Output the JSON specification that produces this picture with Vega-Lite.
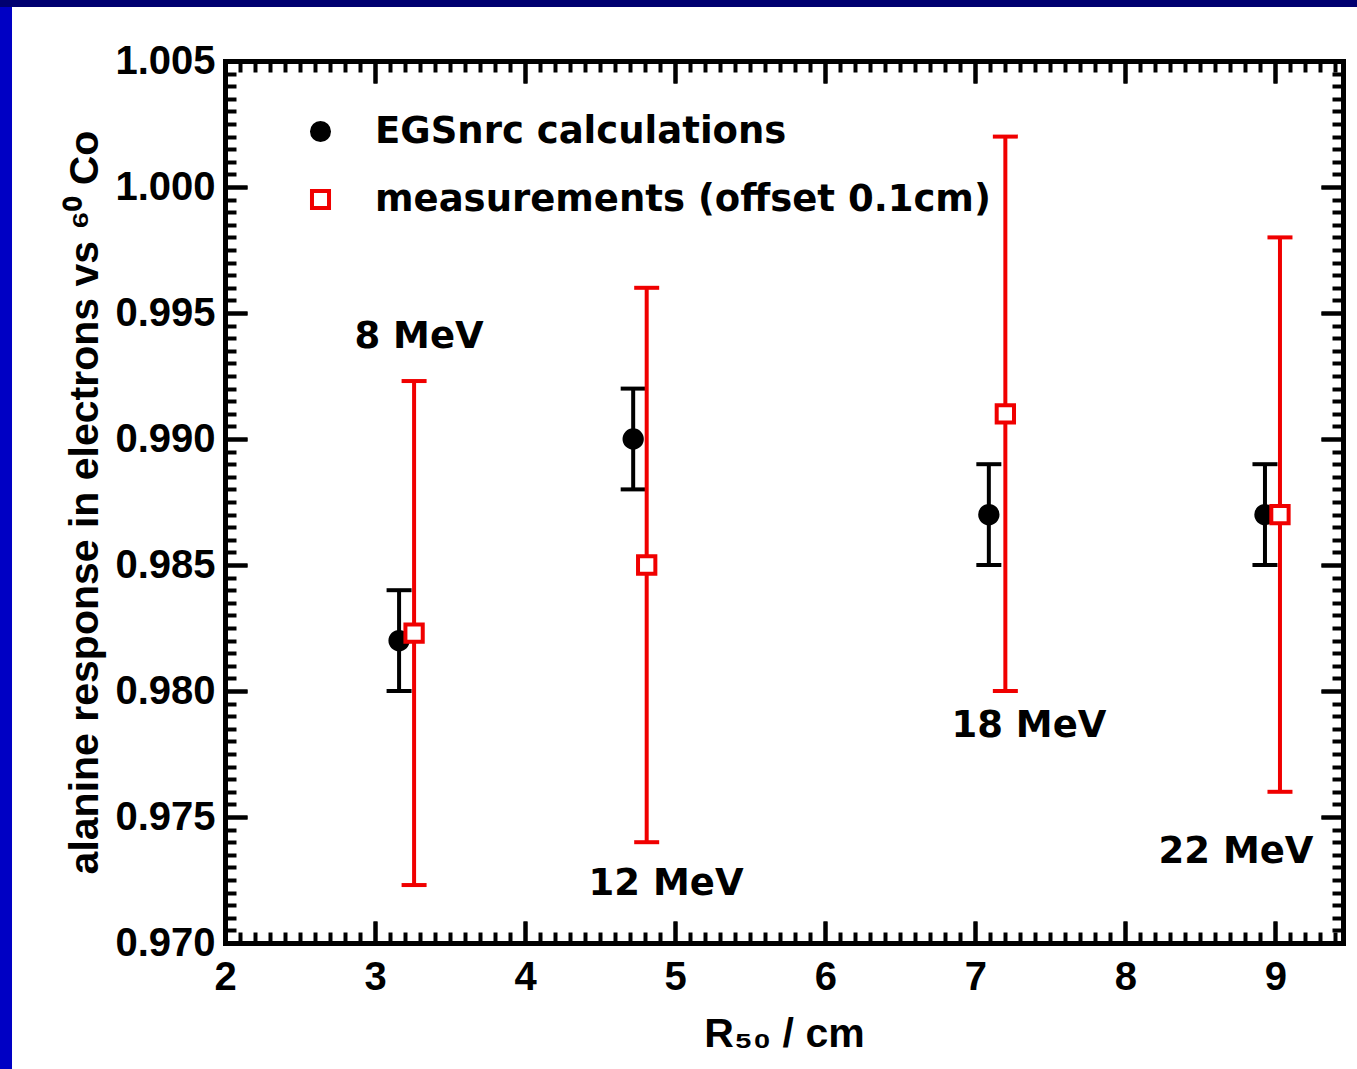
{
  "$schema": "https://vega.github.io/schema/vega-lite/v6.json",
  "width": 1118,
  "height": 882,
  "autosize": {"type": "none"},
  "padding": {"left": 225, "top": 61, "right": 14, "bottom": 126},
  "background": "#0000c4",
  "config": {
    "view": {"stroke": null},
    "axis": {"grid": false},
    "legend": {
      "padding": 0,
      "labelFont": "DejaVu Sans",
      "labelFontWeight": "bold",
      "labelFontSize": 37,
      "labelColor": "black",
      "labelOffset": 36,
      "rowPadding": 30,
      "symbolSize": 290,
      "symbolStrokeWidth": 4,
      "symbolOpacity": 1,
      "labelLimit": 800
    }
  },
  "datasets": {
    "pts": [
      {"series": "EGSnrc calculations", "R50": 3.16, "val": 0.982, "lo": 0.980, "hi": 0.984},
      {"series": "EGSnrc calculations", "R50": 4.72, "val": 0.990, "lo": 0.988, "hi": 0.992},
      {"series": "EGSnrc calculations", "R50": 7.09, "val": 0.987, "lo": 0.985, "hi": 0.989},
      {"series": "EGSnrc calculations", "R50": 8.93, "val": 0.987, "lo": 0.985, "hi": 0.989},
      {"series": "measurements (offset 0.1cm)", "R50": 3.26, "val": 0.9823, "lo": 0.9723, "hi": 0.9923},
      {"series": "measurements (offset 0.1cm)", "R50": 4.81, "val": 0.985, "lo": 0.974, "hi": 0.996},
      {"series": "measurements (offset 0.1cm)", "R50": 7.20, "val": 0.991, "lo": 0.980, "hi": 1.002},
      {"series": "measurements (offset 0.1cm)", "R50": 9.03, "val": 0.987, "lo": 0.976, "hi": 0.998}
    ],
    "notes": [
      {"label": "8 MeV", "R50": 3.293, "val": 0.99361},
      {"label": "12 MeV", "R50": 4.939, "val": 0.97190},
      {"label": "18 MeV", "R50": 7.357, "val": 0.97817},
      {"label": "22 MeV", "R50": 8.737, "val": 0.97317}
    ],
    "frame": [{"part": "frame"}]
  },
  "layer": [
    {
      "data": {"name": "frame"},
      "mark": {"type": "rect", "fill": "#000070", "clip": false},
      "encoding": {
        "x": {"datum": 0.3, "type": "quantitative", "scale": {"domain": [2, 9.45], "nice": false, "zero": false}, "axis": null},
        "x2": {"datum": 9.8},
        "y": {"datum": 1.00714, "type": "quantitative", "scale": {"domain": [0.97, 1.005], "nice": false, "zero": false}, "axis": null},
        "y2": {"datum": 1.011}
      }
    },
    {
      "data": {"name": "frame"},
      "mark": {"type": "rect", "fill": "white", "clip": false},
      "encoding": {
        "x": {"datum": 0.5807, "type": "quantitative", "scale": {"domain": [2, 9.45], "nice": false, "zero": false}, "axis": null},
        "x2": {"datum": 9.8},
        "y": {"datum": 1.00714, "type": "quantitative", "scale": {"domain": [0.97, 1.005], "nice": false, "zero": false}, "axis": null},
        "y2": {"datum": 0.96}
      }
    },
    {
      "data": {"name": "pts"},
      "transform": [{"filter": "datum.series === 'EGSnrc calculations'"}],
      "mark": {"type": "rule", "color": "black", "strokeWidth": 4, "opacity": 1},
      "encoding": {
        "x": {
          "field": "R50", "type": "quantitative",
          "scale": {"domain": [2, 9.45], "nice": false, "zero": false},
          "axis": {
            "orient": "top", "zindex": 1,
            "values": [2,2.1,2.2,2.3,2.4,2.5,2.6,2.7,2.8,2.9,3,3.1,3.2,3.3,3.4,3.5,3.6,3.7,3.8,3.9,4,4.1,4.2,4.3,4.4,4.5,4.6,4.7,4.8,4.9,5,5.1,5.2,5.3,5.4,5.5,5.6,5.7,5.8,5.9,6,6.1,6.2,6.3,6.4,6.5,6.6,6.7,6.8,6.9,7,7.1,7.2,7.3,7.4,7.5,7.6,7.7,7.8,7.9,8,8.1,8.2,8.3,8.4,8.5,8.6,8.7,8.8,8.9,9,9.1,9.2,9.3,9.4],
            "domain": true, "domainColor": "black", "domainWidth": 5, "domainCap": "square",
            "ticks": true, "tickColor": "black", "tickWidth": 4,
            "tickSize": {"condition": {"test": "abs(datum.value - round(datum.value)) < 0.01", "value": -22}, "value": -11},
            "labels": false, "title": null, "grid": false
          }
        },
        "y": {
          "field": "lo", "type": "quantitative",
          "scale": {"domain": [0.97, 1.005], "nice": false, "zero": false},
          "axis": {
            "orient": "right", "zindex": 1,
            "values": [0.97,0.9705,0.971,0.9715,0.972,0.9725,0.973,0.9735,0.974,0.9745,0.975,0.9755,0.976,0.9765,0.977,0.9775,0.978,0.9785,0.979,0.9795,0.98,0.9805,0.981,0.9815,0.982,0.9825,0.983,0.9835,0.984,0.9845,0.985,0.9855,0.986,0.9865,0.987,0.9875,0.988,0.9885,0.989,0.9895,0.99,0.9905,0.991,0.9915,0.992,0.9925,0.993,0.9935,0.994,0.9945,0.995,0.9955,0.996,0.9965,0.997,0.9975,0.998,0.9985,0.999,0.9995,1,1.0005,1.001,1.0015,1.002,1.0025,1.003,1.0035,1.004,1.0045,1.005],
            "domain": true, "domainColor": "black", "domainWidth": 5, "domainCap": "square",
            "ticks": true, "tickColor": "black", "tickWidth": 4,
            "tickSize": {"condition": {"test": "abs(datum.value * 200 - round(datum.value * 200)) < 0.01", "value": -22}, "value": -11},
            "labels": false, "title": null, "grid": false
          }
        },
        "y2": {"field": "hi"}
      }
    },
    {
      "data": {"name": "pts"},
      "transform": [{"filter": "datum.series === 'EGSnrc calculations'"}],
      "mark": {"type": "tick", "orient": "horizontal", "color": "black", "size": 25, "thickness": 4, "opacity": 1},
      "encoding": {
        "x": {
          "field": "R50", "type": "quantitative",
          "scale": {"domain": [2, 9.45], "nice": false, "zero": false},
          "axis": {
            "orient": "bottom", "zindex": 1, "values": [2,3,4,5,6,7,8,9],
            "domain": false, "labels": false, "title": null, "grid": false,
            "ticks": true, "tickColor": "black", "tickWidth": 4, "tickSize": -22
          }
        },
        "y": {
          "field": "lo", "type": "quantitative",
          "scale": {"domain": [0.97, 1.005], "nice": false, "zero": false},
          "axis": {
            "orient": "left", "zindex": 1, "values": [0.97,0.975,0.98,0.985,0.99,0.995,1,1.005],
            "domain": false, "labels": false, "title": null, "grid": false,
            "ticks": true, "tickColor": "black", "tickWidth": 4, "tickSize": -22
          }
        }
      }
    },
    {
      "data": {"name": "pts"},
      "transform": [{"filter": "datum.series === 'EGSnrc calculations'"}],
      "mark": {"type": "tick", "orient": "horizontal", "color": "black", "size": 25, "thickness": 4, "opacity": 1},
      "encoding": {
        "x": {
          "field": "R50", "type": "quantitative",
          "scale": {"domain": [2, 9.45], "nice": false, "zero": false},
          "axis": {
            "orient": "top", "zindex": 1, "values": [2,3,4,5,6,7,8,9],
            "domain": false, "labels": false, "title": null, "grid": false,
            "ticks": true, "tickColor": "black", "tickWidth": 4, "tickSize": -22
          }
        },
        "y": {
          "field": "hi", "type": "quantitative",
          "scale": {"domain": [0.97, 1.005], "nice": false, "zero": false},
          "axis": {
            "orient": "right", "zindex": 1, "values": [0.97,0.975,0.98,0.985,0.99,0.995,1,1.005],
            "domain": false, "labels": false, "title": null, "grid": false,
            "ticks": true, "tickColor": "black", "tickWidth": 4, "tickSize": -22
          }
        }
      }
    },
    {
      "data": {"name": "pts"},
      "transform": [{"filter": "datum.series !== 'EGSnrc calculations'"}],
      "mark": {"type": "rule", "color": "#f00000", "strokeWidth": 4, "opacity": 1},
      "encoding": {
        "x": {
          "field": "R50", "type": "quantitative",
          "scale": {"domain": [2, 9.45], "nice": false, "zero": false},
          "axis": {
            "orient": "bottom", "zindex": 1,
            "values": [2,2.1,2.2,2.3,2.4,2.5,2.6,2.7,2.8,2.9,3,3.1,3.2,3.3,3.4,3.5,3.6,3.7,3.8,3.9,4,4.1,4.2,4.3,4.4,4.5,4.6,4.7,4.8,4.9,5,5.1,5.2,5.3,5.4,5.5,5.6,5.7,5.8,5.9,6,6.1,6.2,6.3,6.4,6.5,6.6,6.7,6.8,6.9,7,7.1,7.2,7.3,7.4,7.5,7.6,7.7,7.8,7.9,8,8.1,8.2,8.3,8.4,8.5,8.6,8.7,8.8,8.9,9,9.1,9.2,9.3,9.4],
            "domain": true, "domainColor": "black", "domainWidth": 5, "domainCap": "square",
            "ticks": true, "tickColor": "black", "tickWidth": 4,
            "tickSize": {"condition": {"test": "abs(datum.value - round(datum.value)) < 0.01", "value": -22}, "value": -11},
            "labels": true,
            "labelExpr": "abs(datum.value - round(datum.value)) < 0.01 ? format(datum.value, 'd') : ''",
            "labelFont": "Liberation Sans", "labelFontWeight": "bold", "labelFontSize": 40, "labelColor": "black",
            "labelPadding": 36, "labelFlush": false, "labelOverlap": false, "labelBound": false,
            "title": "R₅₀ / cm",
            "titleFont": "Liberation Sans", "titleFontWeight": "bold", "titleFontSize": 41, "titleColor": "black",
            "titlePadding": 6,
            "grid": false
          }
        },
        "y": {
          "field": "lo", "type": "quantitative",
          "scale": {"domain": [0.97, 1.005], "nice": false, "zero": false},
          "axis": {
            "orient": "left", "zindex": 1,
            "values": [0.97,0.9705,0.971,0.9715,0.972,0.9725,0.973,0.9735,0.974,0.9745,0.975,0.9755,0.976,0.9765,0.977,0.9775,0.978,0.9785,0.979,0.9795,0.98,0.9805,0.981,0.9815,0.982,0.9825,0.983,0.9835,0.984,0.9845,0.985,0.9855,0.986,0.9865,0.987,0.9875,0.988,0.9885,0.989,0.9895,0.99,0.9905,0.991,0.9915,0.992,0.9925,0.993,0.9935,0.994,0.9945,0.995,0.9955,0.996,0.9965,0.997,0.9975,0.998,0.9985,0.999,0.9995,1,1.0005,1.001,1.0015,1.002,1.0025,1.003,1.0035,1.004,1.0045,1.005],
            "domain": true, "domainColor": "black", "domainWidth": 5, "domainCap": "square",
            "ticks": true, "tickColor": "black", "tickWidth": 4,
            "tickSize": {"condition": {"test": "abs(datum.value * 200 - round(datum.value * 200)) < 0.01", "value": -22}, "value": -11},
            "labels": true,
            "labelExpr": "abs(datum.value * 200 - round(datum.value * 200)) < 0.01 ? format(datum.value, '.3f') : ''",
            "labelFont": "Liberation Sans", "labelFontWeight": "bold", "labelFontSize": 40, "labelColor": "black",
            "labelPadding": 32, "labelFlush": false, "labelOverlap": false, "labelBound": false,
            "title": "alanine response in electrons vs ⁶⁰ Co",
            "titleFont": "Liberation Sans", "titleFontWeight": "bold", "titleFontSize": 41, "titleColor": "black",
            "titlePadding": 8,
            "grid": false
          }
        },
        "y2": {"field": "hi"}
      }
    },
    {
      "data": {"name": "pts"},
      "transform": [{"filter": "datum.series !== 'EGSnrc calculations'"}],
      "mark": {"type": "tick", "orient": "horizontal", "color": "#f00000", "size": 25, "thickness": 4, "opacity": 1},
      "encoding": {
        "x": {"field": "R50", "type": "quantitative", "scale": {"domain": [2, 9.45], "nice": false, "zero": false}, "axis": null},
        "y": {"field": "lo", "type": "quantitative", "scale": {"domain": [0.97, 1.005], "nice": false, "zero": false}, "axis": null}
      }
    },
    {
      "data": {"name": "pts"},
      "transform": [{"filter": "datum.series !== 'EGSnrc calculations'"}],
      "mark": {"type": "tick", "orient": "horizontal", "color": "#f00000", "size": 25, "thickness": 4, "opacity": 1},
      "encoding": {
        "x": {"field": "R50", "type": "quantitative", "scale": {"domain": [2, 9.45], "nice": false, "zero": false}, "axis": null},
        "y": {"field": "hi", "type": "quantitative", "scale": {"domain": [0.97, 1.005], "nice": false, "zero": false}, "axis": null}
      }
    },
    {
      "data": {"name": "pts"},
      "mark": {"type": "point", "size": 300, "strokeWidth": 4, "opacity": 1},
      "encoding": {
        "x": {"field": "R50", "type": "quantitative", "scale": {"domain": [2, 9.45], "nice": false, "zero": false}, "axis": null},
        "y": {"field": "val", "type": "quantitative", "scale": {"domain": [0.97, 1.005], "nice": false, "zero": false}, "axis": null},
        "shape": {
          "field": "series", "type": "nominal",
          "scale": {"domain": ["EGSnrc calculations", "measurements (offset 0.1cm)"], "range": ["circle", "square"]},
          "legend": {"orient": "none", "legendX": 77, "legendY": 52, "title": null}
        },
        "fill": {
          "field": "series", "type": "nominal",
          "scale": {"domain": ["EGSnrc calculations", "measurements (offset 0.1cm)"], "range": ["black", "white"]},
          "legend": {"orient": "none", "legendX": 77, "legendY": 52, "title": null}
        },
        "stroke": {
          "field": "series", "type": "nominal",
          "scale": {"domain": ["EGSnrc calculations", "measurements (offset 0.1cm)"], "range": ["black", "#f00000"]},
          "legend": {"orient": "none", "legendX": 77, "legendY": 52, "title": null}
        }
      }
    },
    {
      "data": {"name": "notes"},
      "mark": {"type": "text", "font": "DejaVu Sans", "fontWeight": "bold", "fontSize": 37, "align": "center", "baseline": "alphabetic", "color": "black"},
      "encoding": {
        "x": {"field": "R50", "type": "quantitative", "scale": {"domain": [2, 9.45], "nice": false, "zero": false}, "axis": null},
        "y": {"field": "val", "type": "quantitative", "scale": {"domain": [0.97, 1.005], "nice": false, "zero": false}, "axis": null},
        "text": {"field": "label", "type": "nominal"}
      }
    }
  ],
  "resolve": {"axis": {"x": "independent", "y": "independent"}}
}
